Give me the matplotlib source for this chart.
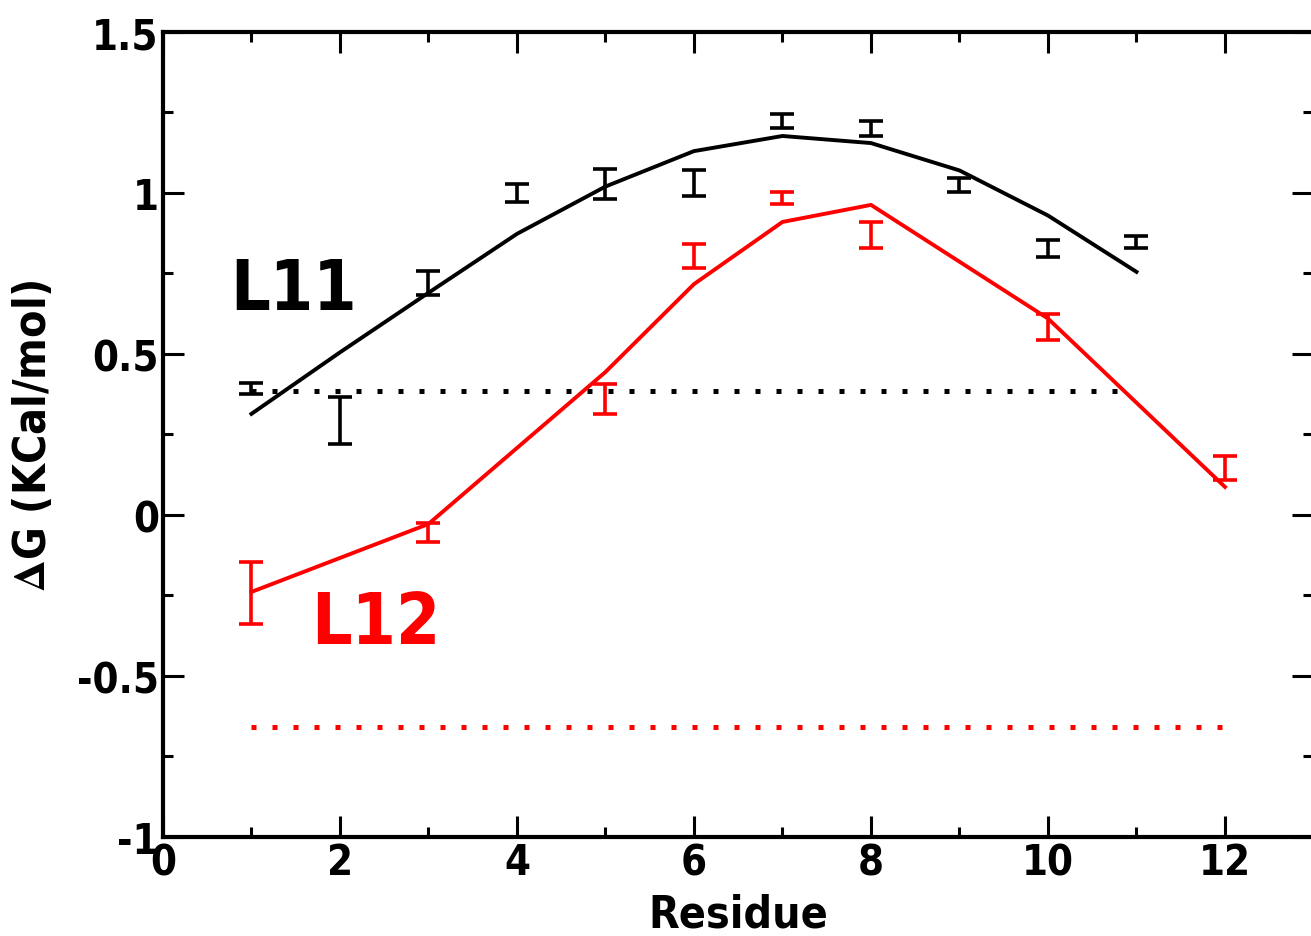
import matplotlib
matplotlib.use("Agg")
import matplotlib.pyplot as plt
from matplotlib.ticker import MultipleLocator

# L11 (black) - averages with error bars and fitted curve
l11_x = [1, 2, 3, 4, 5, 6, 7, 8, 9, 10, 11]
l11_val = [0.394, 0.293, 0.72, 1.00, 1.028, 1.03, 1.223, 1.20, 1.025, 0.827, 0.848]
l11_err = [0.017, 0.073, 0.037, 0.027, 0.047, 0.04, 0.022, 0.023, 0.022, 0.027, 0.018]
l11_fit = [0.314, 0.505, 0.69, 0.873, 1.02, 1.13, 1.177, 1.155, 1.07, 0.93, 0.755]
l11_ref = 0.385

# L12 (red)
l12_x = [1, 3, 5, 6, 7, 8, 10, 12]
l12_val = [-0.242, -0.055, 0.36, 0.805, 0.985, 0.87, 0.584, 0.146]
l12_err = [0.097, 0.03, 0.047, 0.037, 0.018, 0.04, 0.04, 0.037]
l12_fit = [-0.239, -0.028, 0.444, 0.717, 0.91, 0.963, 0.61, 0.087]
l12_ref = -0.658

RED = "#ff0000"

plt.rcParams["font.family"] = ["DejaVu Sans"]
plt.rcParams["font.weight"] = "bold"
plt.rcParams["font.stretch"] = "condensed"
plt.rcParams["mathtext.fontset"] = "stix"

fig = plt.figure(figsize=(13.11, 9.37), dpi=100)
ax = fig.add_axes([0.1243, 0.1057, 0.8776, 0.8591])

for x, v, e, fit, ref, c, xend in [
    (l11_x, l11_val, l11_err, l11_fit, l11_ref, "black", 10.9),
    (l12_x, l12_val, l12_err, l12_fit, l12_ref, RED, 12),
]:
    ax.plot(x, fit, color=c, lw=2.8, zorder=3)
    ax.errorbar(x, v, yerr=e, fmt="none", ecolor=c, elinewidth=2.6,
                capsize=8.3, capthick=2.6, zorder=3)
    ax.plot([x[0], xend], [ref, ref], color=c, lw=3.6,
            ls=(0, (1, 3.2)), zorder=2)

ax.text(1.48, 0.70, "L11", fontsize=50, fontweight="bold", color="black",
        ha="center", va="center")
ax.text(2.40, -0.338, "L12", fontsize=51, fontweight="bold", color=RED,
        ha="center", va="center")

ax.set_xlim(0, 13)
ax.set_ylim(-1, 1.5)
ax.xaxis.set_major_locator(MultipleLocator(2))
ax.xaxis.set_minor_locator(MultipleLocator(1))
ax.yaxis.set_minor_locator(MultipleLocator(0.25))
ax.set_yticks([-1, -0.5, 0, 0.5, 1, 1.5])
ax.set_yticklabels(["-1", "-0.5", "0", "0.5", "1", "1.5"])

ax.tick_params(which="both", direction="in", top=True, right=True,
               width=2.2, labelsize=30)
ax.tick_params(which="major", length=15, pad=3)
ax.tick_params(which="minor", length=7.5)
for lab in ax.get_xticklabels() + ax.get_yticklabels():
    lab.set_fontweight("bold")

for side in ["left", "bottom", "top"]:
    ax.spines[side].set_linewidth(3)
ax.spines["right"].set_visible(False)

ax.set_xlabel("Residue", fontsize=32, fontweight="bold")
ax.set_ylabel(r"$\Delta$G (KCal/mol)", fontsize=32, fontweight="bold")
ax.xaxis.set_label_coords(0.5, -0.069)
ax.yaxis.set_label_coords(-0.094, 0.5)

fig.savefig("out.png", dpi=100)
